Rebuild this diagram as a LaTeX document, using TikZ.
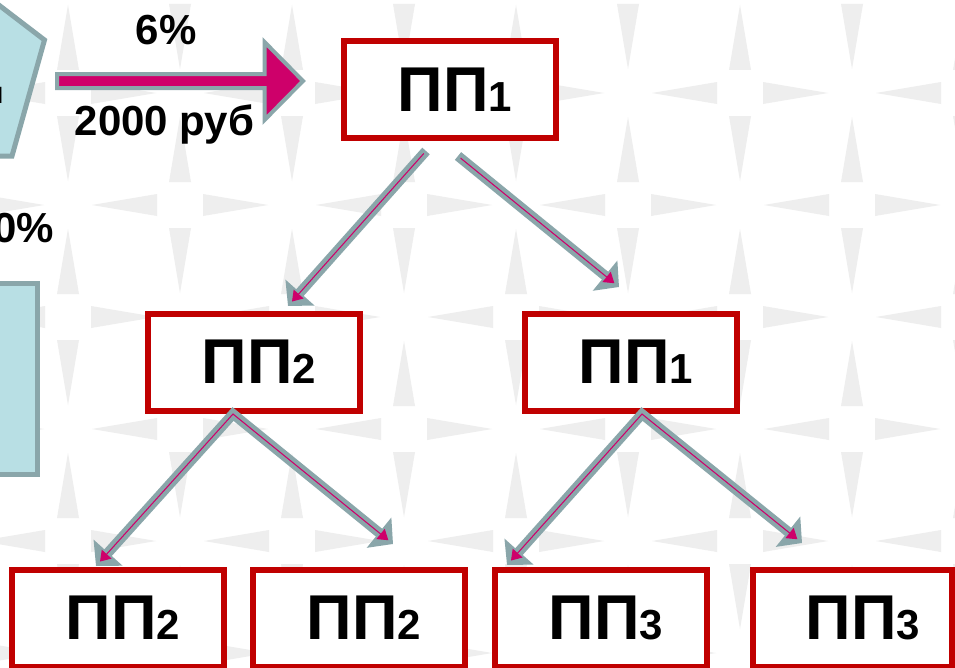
\documentclass[tikz,border=0pt]{standalone}
\usepackage{fontspec}
\setmainfont{Liberation Sans}
\usetikzlibrary{arrows.meta,calc}
\definecolor{pinkc}{RGB}{206,0,106}
\definecolor{grayb}{RGB}{138,166,170}
\definecolor{cyanf}{RGB}{184,223,228}
\definecolor{redb}{RGB}{192,0,0}
\definecolor{patc}{RGB}{238,238,238}
\newcommand\ppsub[1]{{\fontsize{31.5}{32}\selectfont #1}}
\begin{document}
\begin{tikzpicture}[x=0.75pt,y=-0.75pt,
  box/.style={draw=redb, fill=white, line width=4.5pt, minimum width=159pt, minimum height=72.75pt, inner sep=0pt},
  pptext/.style={anchor=base, inner sep=0pt, font=\fontsize{47.5}{48}\selectfont\bfseries},
  lab/.style={inner sep=0pt, font=\fontsize{31.5}{32}\selectfont\bfseries},
  gtip/.tip={Triangle[width=28.5pt,length=13.5pt]},
  ptip/.tip={Triangle[width=9.75pt,length=7.5pt]},
  garr/.style={draw=grayb, line width=7.5pt, line cap=butt, line join=miter},
  parr/.style={draw=pinkc, line width=0.8pt, line join=miter}]
\useasboundingbox (0,0) rectangle (955,667);
\fill[white] (0,0) rectangle (955,667);
% background pattern
\foreach \j/\s in {-1/1,0/0,1/1,2/0,3/1,4/0,5/1,6/0}{
  \foreach \k in {-4,...,2}{
    \pgfmathsetmacro\X{628+112*(2*\k+\s)}
    \pgfmathsetmacro\Y{93+112*\j}
    \fill[patc] (\X+24,\Y) -- (\X+89,\Y-11) -- (\X+89,\Y+11) -- cycle;
    \fill[patc] (\X-24,\Y) -- (\X-89,\Y-11) -- (\X-89,\Y+11) -- cycle;
    \fill[patc] (\X,\Y+24) -- (\X-11,\Y+89) -- (\X+11,\Y+89) -- cycle;
    \fill[patc] (\X,\Y-24) -- (\X-11,\Y-89) -- (\X+11,\Y-89) -- cycle;
  }}
% left shapes
\draw[grayb, fill=cyanf, line width=3.75pt, line join=miter] (-60,-40) -- (44.5,40) -- (12,156) -- (-100,156) -- cycle;
\node[inner sep=0pt, anchor=base east, font=\fontsize{23}{24}\selectfont\bfseries] (pt) at (4,103) {н};
\draw[grayb, fill=cyanf, line width=3.75pt] (-20,283.5) rectangle (37.5,474.5);
\node[lab, anchor=base east] (p0) at (54,242) {0\%};
% big arrow
\draw[grayb, fill=pinkc, line width=3pt, line join=miter] (57,74) -- (264.5,74) -- (264.5,42) -- (303,81) -- (264.5,120) -- (264.5,88) -- (57,88) -- cycle;
\node[lab, anchor=base] (l1) at (166,45) {6\%};
\node[lab, anchor=base] (l2) at (164.5,135) {2000 руб};
% boxes
\node[box] (b1) at (450,89.5) {};
\node[box] (b2) at (253.5,362) {};
\node[box] (b3) at (631.25,362) {};
\node[box] (b4) at (117.75,618.5) {};
\node[box] (b5) at (359.25,618.5) {};
\node[box] (b6) at (601,618.5) {};
\node[box, minimum width=149.6pt] (b7) at (852.25,618.5) {};
% arrow coordinates
\coordinate (a1s) at (426,151); \coordinate (a1e) at (288,306);
\coordinate (a2s) at (458,156); \coordinate (a2e) at (619,287);
\coordinate (ap2) at (233,414); \coordinate (a3e) at (96,566); \coordinate (a4e) at (393,544);
\coordinate (ap3) at (642,414); \coordinate (a5e) at (507,565); \coordinate (a6e) at (802,543);
% gray arrows
\draw[garr, -gtip] (a1s) -- (a1e);
\draw[garr, -gtip] (a2s) -- (a2e);
\draw[garr, gtip-gtip] (a3e) -- (ap2) -- (a4e);
\draw[garr, gtip-gtip] (a5e) -- (ap3) -- (a6e);
% pink cores
\draw[parr, -ptip, shorten <=2.5pt, shorten >=4.5pt] (a1s) -- (a1e);
\draw[parr, -ptip, shorten <=2.5pt, shorten >=4.5pt] (a2s) -- (a2e);
\draw[parr, ptip-ptip, shorten <=4.5pt, shorten >=4.5pt] (a3e) -- (ap2) -- (a4e);
\draw[parr, ptip-ptip, shorten <=4.5pt, shorten >=4.5pt] (a5e) -- (ap3) -- (a6e);
% texts
\node[pptext] (t1) at (455,111) {ПП\ppsub{1}};
\node[pptext] (t2) at (259,383) {ПП\ppsub{2}};
\node[pptext] (t3) at (636,383) {ПП\ppsub{1}};
\node[pptext] (t4) at (123,639) {ПП\ppsub{2}};
\node[pptext] (t5) at (364,639) {ПП\ppsub{2}};
\node[pptext] (t6) at (606,639) {ПП\ppsub{3}};
\node[pptext] (t7) at (863,639) {ПП\ppsub{3}};
\end{tikzpicture}
\end{document}
